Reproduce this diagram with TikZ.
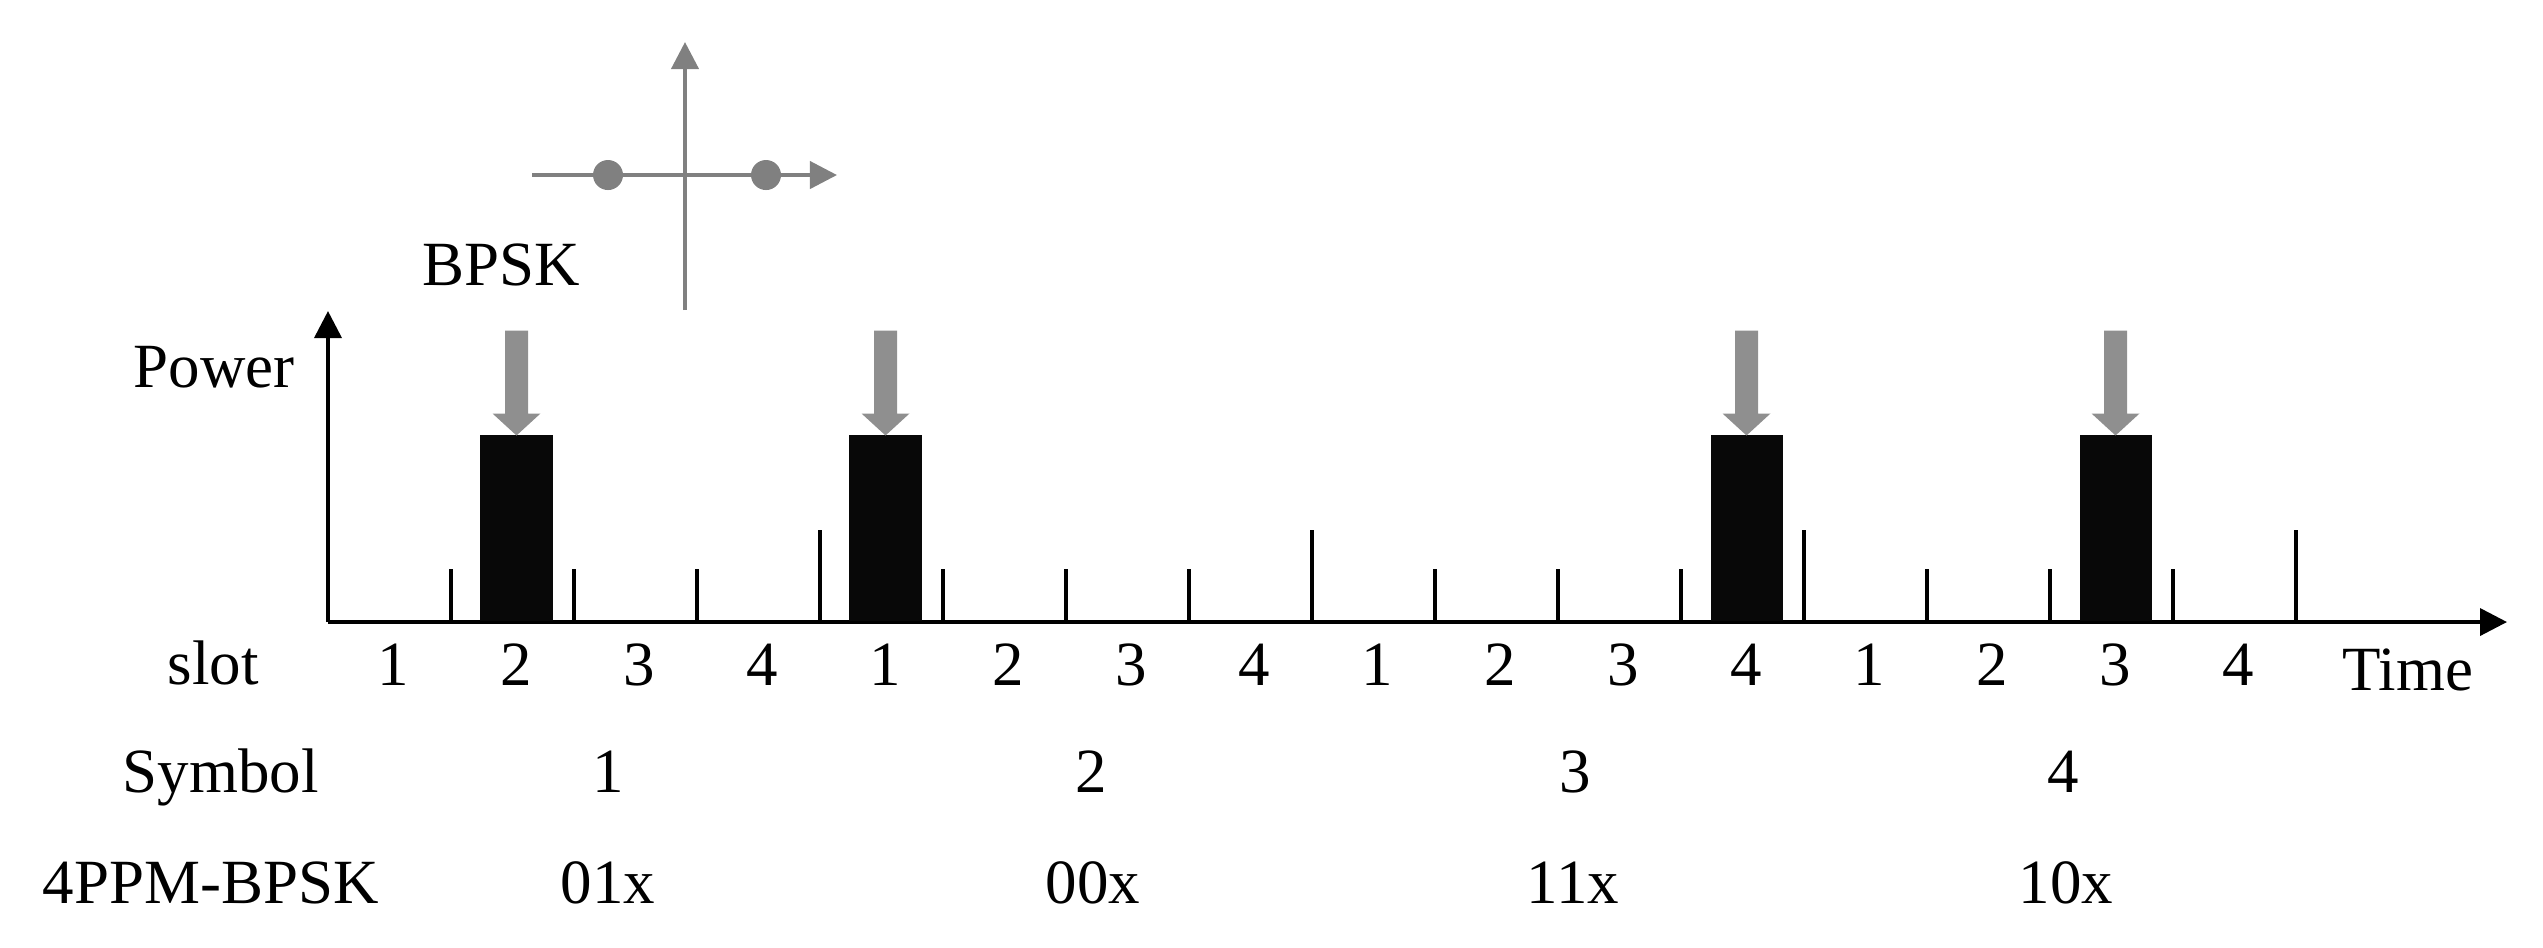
\documentclass[tikz,border=0pt]{standalone}
\usepackage{fontspec}
\setmainfont{Liberation Serif}
\usetikzlibrary{arrows.meta}
\begin{document}
\begin{tikzpicture}[x=0.01cm,y=-0.01cm,
  lbl/.style={inner sep=0pt, font=\fontsize{17.9}{21}\selectfont},
  axisline/.style={line width=1.05pt, draw=black, -{Triangle[length=0.27cm,width=0.27cm]}},
  tickline/.style={line width=0.95pt},
  pulse/.style={fill=black!97, draw=none, inner sep=0pt, minimum width=0.72cm, minimum height=1.86cm, anchor=south},
  garrow/.style={fill=gray!88, draw=none},
  iqline/.style={draw=gray, line width=1.15pt, -{Triangle[length=0.27cm,width=0.27cm]}},
  iqdot/.style={circle, fill=gray, draw=none, inner sep=0pt, minimum size=0.30cm}
]
\useasboundingbox (0,0) rectangle (2543,947);

% constellation
\coordinate (iqL) at (532,175);
\coordinate (iqR) at (837,175);
\coordinate (iqB) at (685,310);
\coordinate (iqT) at (685,42);
\draw[iqline] (iqL) -- (iqR);
\draw[iqline] (iqB) -- (iqT);
\node[iqdot] (d1) at (608,175) {};
\node[iqdot] (d2) at (766,175) {};
\node[lbl, anchor=base west] (bpsk) at (422,285) {BPSK};

% axes
\coordinate (O) at (328,622);
\coordinate (Ytip) at (328,311);
\coordinate (Xtip) at (2507,622);
\draw[axisline] (O) -- (Ytip);
\draw[axisline] (O) -- (Xtip);
\node[lbl, anchor=base west] (power) at (133,387) {Power};
\node[lbl, anchor=base west] (time) at (2342,690) {Time};

% ticks
\foreach \k in {1,...,16}{
  \pgfmathsetmacro{\tx}{328+123*\k}
  \pgfmathsetmacro{\ty}{ifthenelse(mod(\k,4)==0,530,569)}
  \coordinate (tb\k) at (\tx,622);
  \coordinate (tt\k) at (\tx,\ty);
  \draw[tickline] (tb\k) -- (tt\k);
}

% slot numbers
\foreach \k/\n in {1/1,2/2,3/3,4/4,5/1,6/2,7/3,8/4,9/1,10/2,11/3,12/4,13/1,14/2,15/3,16/4}{
  \pgfmathsetmacro{\sx}{328+123*(\k-0.5)+4}
  \node[lbl, anchor=base] (s\k) at (\sx,685) {\n};
}
\node[lbl, anchor=base west] (slotlbl) at (167,684) {slot};

% pulses and gray arrows
\foreach \i/\s in {1/2,2/5,3/12,4/15}{
  \pgfmathsetmacro{\px}{328+123*(\s-0.5)+4}
  \node[pulse] (p\i) at (\px,622) {};
  \fill[garrow] ([shift={(-11.5,-104)}]p\i.north) -- ([shift={(11.5,-104)}]p\i.north)
     -- ([shift={(11.5,-21)}]p\i.north) -- ([shift={(24,-21)}]p\i.north)
     -- ([shift={(0,1)}]p\i.north) -- ([shift={(-24,-21)}]p\i.north)
     -- ([shift={(-11.5,-21)}]p\i.north) -- cycle;
}

% symbol row
\node[lbl, anchor=base west] (symlbl) at (122,792) {Symbol};
\node[lbl, anchor=base] (sym1) at (608,792) {1};
\node[lbl, anchor=base] (sym2) at (1091,792) {2};
\node[lbl, anchor=base] (sym3) at (1575,792) {3};
\node[lbl, anchor=base] (sym4) at (2063,792) {4};

% code row
\node[lbl, anchor=base west] (codelbl) at (42,903) {4PPM-BPSK};
\node[lbl, anchor=base] (c1) at (608,903) {01x};
\node[lbl, anchor=base] (c2) at (1093,903) {00x};
\node[lbl, anchor=base] (c3) at (1573,903) {11x};
\node[lbl, anchor=base] (c4) at (2066,903) {10x};
\end{tikzpicture}
\end{document}
